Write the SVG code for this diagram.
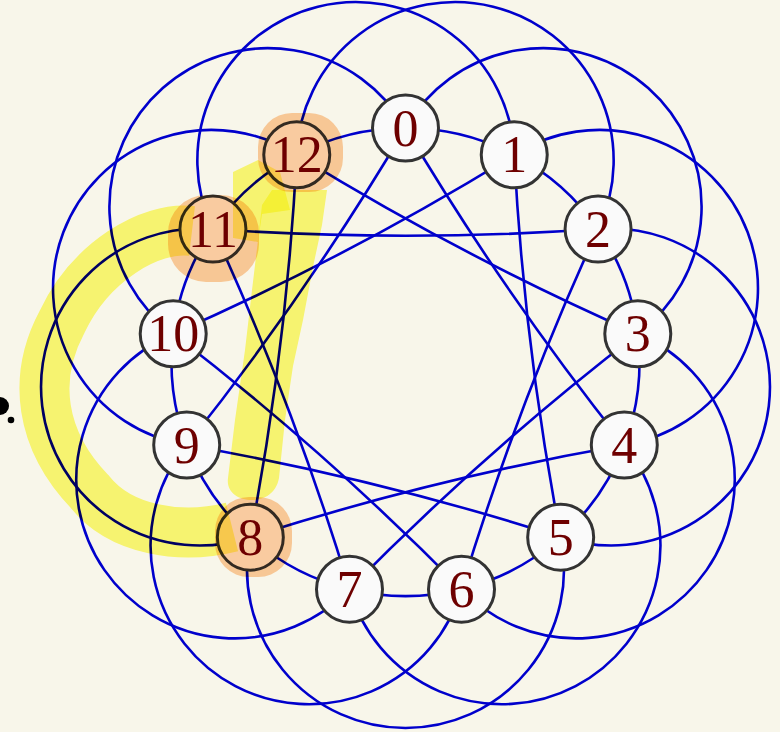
<svg xmlns="http://www.w3.org/2000/svg" width="780" height="732" viewBox="0 0 780 732">
<style>
.e{fill:none;stroke:#0000cc;stroke-width:2.6}
.n{fill:#fafafa;stroke:#333;stroke-width:3}
.t{font-family:"Liberation Serif","Times New Roman",serif;font-size:52px;fill:#6e0000;text-anchor:middle}
.halo{fill:#fecfa3;mix-blend-mode:multiply}
.hl{fill:#fdfc7a;mix-blend-mode:multiply}
.hls{fill:none;stroke:#fdfc7a;stroke-width:50;mix-blend-mode:multiply}
</style>
<rect width="780" height="732" fill="#f8f6ea"/>
<g id="connectors">
<path class="e" d="M405.5 128A234 234 0 0 1 514.24 154.8"/>
<path class="e" d="M514.24 154.8A234 234 0 0 1 598.08 229.07"/>
<path class="e" d="M598.08 229.07A234 234 0 0 1 637.79 333.79"/>
<path class="e" d="M637.79 333.79A234 234 0 0 1 624.29 444.98"/>
<path class="e" d="M624.29 444.98A234 234 0 0 1 560.67 537.15"/>
<path class="e" d="M560.67 537.15A234 234 0 0 1 461.5 589.2"/>
<path class="e" d="M461.5 589.2A234 234 0 0 1 349.5 589.2"/>
<path class="e" d="M349.5 589.2A234 234 0 0 1 250.33 537.15"/>
<path class="e" d="M250.33 537.15A234 234 0 0 1 186.71 444.98"/>
<path class="e" d="M186.71 444.98A234 234 0 0 1 173.21 333.79"/>
<path class="e" d="M173.21 333.79A234 234 0 0 1 212.92 229.07"/>
<path class="e" d="M212.92 229.07A234 234 0 0 1 296.76 154.8"/>
<path class="e" d="M296.76 154.8A234 234 0 0 1 405.5 128"/>
<path class="e" d="M405.5 128A158.5 158.5 0 1 1 637.79 333.79"/>
<path class="e" d="M514.24 154.8A158.5 158.5 0 1 1 624.29 444.98"/>
<path class="e" d="M598.08 229.07A158.5 158.5 0 1 1 560.67 537.15"/>
<path class="e" d="M637.79 333.79A158.5 158.5 0 1 1 461.5 589.2"/>
<path class="e" d="M624.29 444.98A158.5 158.5 0 1 1 349.5 589.2"/>
<path class="e" d="M560.67 537.15A158.5 158.5 0 1 1 250.33 537.15"/>
<path class="e" d="M461.5 589.2A158.5 158.5 0 1 1 186.71 444.98"/>
<path class="e" d="M349.5 589.2A158.5 158.5 0 1 1 173.21 333.79"/>
<path class="e" d="M250.33 537.15A158.5 158.5 0 1 1 212.92 229.07"/>
<path class="e" d="M186.71 444.98A158.5 158.5 0 1 1 296.76 154.8"/>
<path class="e" d="M173.21 333.79A158.5 158.5 0 1 1 405.5 128"/>
<path class="e" d="M212.92 229.07A158.5 158.5 0 1 1 514.24 154.8"/>
<path class="e" d="M296.76 154.8A158.5 158.5 0 1 1 598.08 229.07"/>
<path class="e" d="M405.5 128A2800 2800 0 0 0 624.29 444.98"/>
<path class="e" d="M514.24 154.8A2800 2800 0 0 0 560.67 537.15"/>
<path class="e" d="M598.08 229.07A2800 2800 0 0 0 461.5 589.2"/>
<path class="e" d="M637.79 333.79A2800 2800 0 0 0 349.5 589.2"/>
<path class="e" d="M624.29 444.98A2800 2800 0 0 0 250.33 537.15"/>
<path class="e" d="M560.67 537.15A2800 2800 0 0 0 186.71 444.98"/>
<path class="e" d="M461.5 589.2A2800 2800 0 0 0 173.21 333.79"/>
<path class="e" d="M349.5 589.2A2800 2800 0 0 0 212.92 229.07"/>
<path class="e" d="M250.33 537.15A2800 2800 0 0 0 296.76 154.8"/>
<path class="e" d="M186.71 444.98A2800 2800 0 0 0 405.5 128"/>
<path class="e" d="M173.21 333.79A2800 2800 0 0 0 514.24 154.8"/>
<path class="e" d="M212.92 229.07A2800 2800 0 0 0 598.08 229.07"/>
<path class="e" d="M296.76 154.8A2800 2800 0 0 0 637.79 333.79"/>
</g>
<g id="node-0"><circle class="n" cx="405.5" cy="128" r="33"/><text class="t" x="405.5" y="145.6">0</text></g>
<g id="node-1"><circle class="n" cx="514.24" cy="154.8" r="33"/><text class="t" x="514.24" y="172.4">1</text></g>
<g id="node-2"><circle class="n" cx="598.08" cy="229.07" r="33"/><text class="t" x="598.08" y="246.7">2</text></g>
<g id="node-3"><circle class="n" cx="637.79" cy="333.79" r="33"/><text class="t" x="637.79" y="351.4">3</text></g>
<g id="node-4"><circle class="n" cx="624.29" cy="444.98" r="33"/><text class="t" x="624.29" y="462.6">4</text></g>
<g id="node-5"><circle class="n" cx="560.67" cy="537.15" r="33"/><text class="t" x="560.67" y="554.8">5</text></g>
<g id="node-6"><circle class="n" cx="461.5" cy="589.2" r="33"/><text class="t" x="461.5" y="606.8">6</text></g>
<g id="node-7"><circle class="n" cx="349.5" cy="589.2" r="33"/><text class="t" x="349.5" y="606.8">7</text></g>
<g id="node-8"><circle class="n" cx="250.33" cy="537.15" r="33"/><text class="t" x="250.33" y="554.8">8</text></g>
<g id="node-9"><circle class="n" cx="186.71" cy="444.98" r="33"/><text class="t" x="186.71" y="462.6">9</text></g>
<g id="node-10"><circle class="n" cx="173.21" cy="333.79" r="33"/><text class="t" x="173.21" y="351.4">10</text></g>
<g id="node-11"><circle class="n" cx="212.92" cy="229.07" r="33"/><text class="t" x="212.92" y="246.7">11</text></g>
<g id="node-12"><circle class="n" cx="296.76" cy="154.8" r="33"/><text class="t" x="296.76" y="172.4">12</text></g>
<rect class="halo" x="258" y="113" width="85" height="79" rx="34"/>
<rect class="halo" x="168" y="195" width="91" height="87" rx="38"/>
<rect class="halo" x="215" y="497" width="77" height="80" rx="34"/>
<path class="hls" d="M192 231C150 226 90 262 62 322C32 378 40 440 90 492C120 530 180 540 232 527"/>
<path class="hl" d="M233 172L258 160L280 172L290 210L262 214L258 242L233 238Z"/>
<path class="hl" d="M272 190L327 190L322 225L313 267L303 320L293 366L285 420L279 478C276 495 262 500 252 500C238 500 226 492 228 478L235 420L245 350L252 290L258 240L262 205Z"/>
<circle cx="0" cy="406" r="9" fill="#000"/>
<circle cx="11" cy="420" r="3.3" fill="#000"/>
</svg>
